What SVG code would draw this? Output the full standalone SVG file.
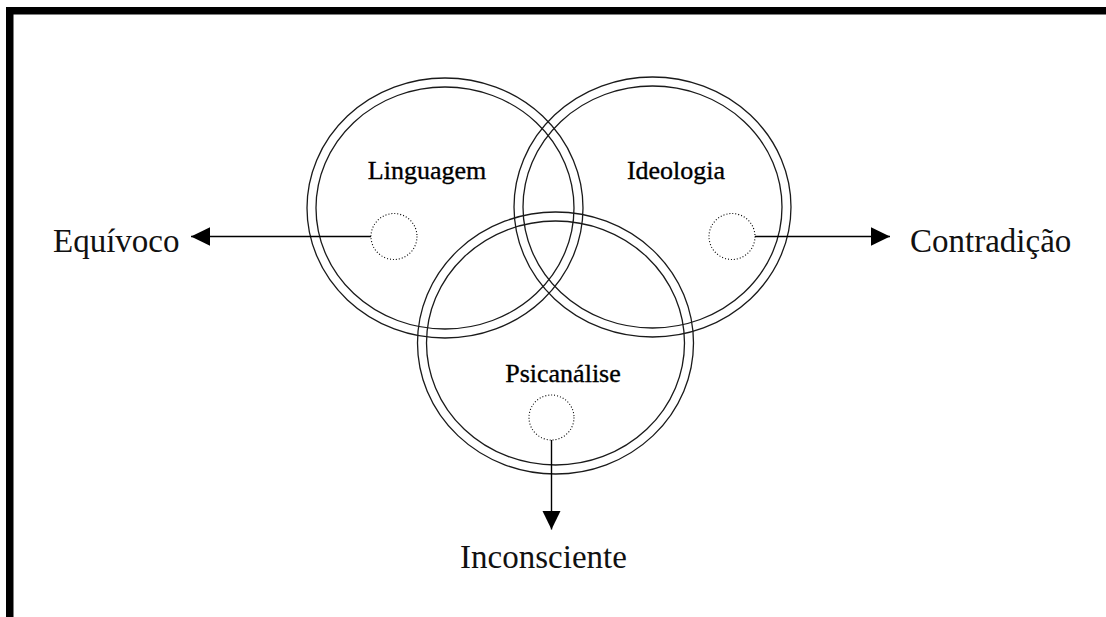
<svg xmlns="http://www.w3.org/2000/svg" width="1106" height="617" viewBox="0 0 1106 617">
  <style>
    .ring { fill: none; stroke: #1a1a1a; stroke-width: 1.3; }
    .dot { fill: none; stroke: #000; stroke-width: 1.1; stroke-dasharray: 1 2; }
    .conn { stroke: #000; stroke-width: 1.4; fill: none; }
    .inner { font-family: "Liberation Serif", "Times New Roman", serif; font-size: 26px; fill: #000; stroke: #000; stroke-width: 0.35; text-anchor: middle; }
    .outer { font-family: "Liberation Serif", "Times New Roman", serif; font-size: 33px; fill: #111; }
  </style>
  <defs>
    <marker id="arrow" markerUnits="userSpaceOnUse" markerWidth="20" markerHeight="20" refX="19" refY="9.25" orient="auto">
      <path d="M0,0 L19,9.25 L0,18.5 Z" fill="#000"/>
    </marker>
  </defs>
  <rect width="1106" height="617" fill="#fff"/>
  <rect id="frame" x="9.75" y="10.75" width="1200" height="700" fill="none" stroke="#000" stroke-width="7.5"/>

  <g id="linguagem">
    <ellipse class="ring" cx="445" cy="208" rx="138" ry="130"/>
    <ellipse class="ring" cx="445" cy="208" rx="129" ry="121"/>
    <circle class="dot" cx="394" cy="236.5" r="23"/>
    <text class="inner" x="427" y="179">Linguagem</text>
  </g>
  <g id="ideologia">
    <ellipse class="ring" cx="652.5" cy="207" rx="138.5" ry="130"/>
    <ellipse class="ring" cx="652.5" cy="207" rx="129.5" ry="121"/>
    <circle class="dot" cx="732" cy="236.5" r="23"/>
    <text class="inner" x="676" y="179">Ideologia</text>
  </g>
  <g id="psicanalise">
    <ellipse class="ring" cx="555.5" cy="343" rx="138" ry="131"/>
    <ellipse class="ring" cx="555.5" cy="343" rx="129" ry="122"/>
    <circle class="dot" cx="551.5" cy="417.5" r="22.5"/>
    <text class="inner" x="563" y="382">Psicanálise</text>
  </g>

  <g id="connectors">
    <line class="conn" x1="371" y1="236.5" x2="191" y2="236.5" marker-end="url(#arrow)"/>
    <line class="conn" x1="755" y1="236.5" x2="890" y2="236.5" marker-end="url(#arrow)"/>
    <line class="conn" x1="551.5" y1="440" x2="551.5" y2="529.5" marker-end="url(#arrow)"/>
  </g>

  <g id="equivoco"><text class="outer" x="53" y="252">Equívoco</text></g>
  <g id="contradicao"><text class="outer" x="910" y="252">Contradição</text></g>
  <g id="inconsciente"><text class="outer" x="543.5" y="568" text-anchor="middle">Inconsciente</text></g>
</svg>
